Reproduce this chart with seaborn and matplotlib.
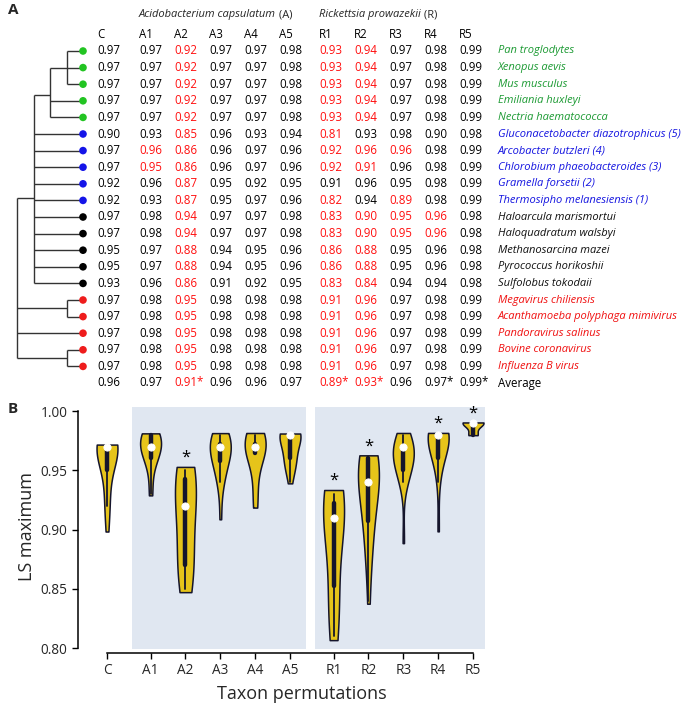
import numpy as np
import pandas as pd
import matplotlib
matplotlib.use("Agg")
import matplotlib.pyplot as plt
import seaborn as sns

# ---- data ----
perms = ["C", "A1", "A2", "A3", "A4", "A5", "R1", "R2", "R3", "R4", "R5"]

species = ["Pan troglodytes", "Xenopus aevis", "Mus musculus", "Emiliania huxleyi",
           "Nectria haematococca", "Gluconacetobacter diazotrophicus (5)",
           "Arcobacter butzleri (4)", "Chlorobium phaeobacteroides (3)",
           "Gramella forsetii (2)", "Thermosipho melanesiensis (1)",
           "Haloarcula marismortui", "Haloquadratum walsbyi", "Methanosarcina mazei",
           "Pyrococcus horikoshii", "Sulfolobus tokodaii", "Megavirus chiliensis",
           "Acanthamoeba polyphaga mimivirus", "Pandoravirus salinus",
           "Bovine coronavirus", "Influenza B virus"]

groups = ["euk"] * 5 + ["bact"] * 5 + ["arch"] * 5 + ["virus"] * 5

ls_max = [
    [0.97, 0.97, 0.92, 0.97, 0.97, 0.98, 0.93, 0.94, 0.97, 0.98, 0.99],
    [0.97, 0.97, 0.92, 0.97, 0.97, 0.98, 0.93, 0.94, 0.97, 0.98, 0.99],
    [0.97, 0.97, 0.92, 0.97, 0.97, 0.98, 0.93, 0.94, 0.97, 0.98, 0.99],
    [0.97, 0.97, 0.92, 0.97, 0.97, 0.98, 0.93, 0.94, 0.97, 0.98, 0.99],
    [0.97, 0.97, 0.92, 0.97, 0.97, 0.98, 0.93, 0.94, 0.97, 0.98, 0.99],
    [0.90, 0.93, 0.85, 0.96, 0.93, 0.94, 0.81, 0.93, 0.98, 0.90, 0.98],
    [0.97, 0.96, 0.86, 0.96, 0.97, 0.96, 0.92, 0.96, 0.96, 0.98, 0.99],
    [0.97, 0.95, 0.86, 0.96, 0.97, 0.96, 0.92, 0.91, 0.96, 0.98, 0.99],
    [0.92, 0.96, 0.87, 0.95, 0.92, 0.95, 0.91, 0.96, 0.95, 0.98, 0.99],
    [0.92, 0.93, 0.87, 0.95, 0.97, 0.96, 0.82, 0.94, 0.89, 0.98, 0.99],
    [0.97, 0.98, 0.94, 0.97, 0.97, 0.98, 0.83, 0.90, 0.95, 0.96, 0.98],
    [0.97, 0.98, 0.94, 0.97, 0.97, 0.98, 0.83, 0.90, 0.95, 0.96, 0.98],
    [0.95, 0.97, 0.88, 0.94, 0.95, 0.96, 0.86, 0.88, 0.95, 0.96, 0.98],
    [0.95, 0.97, 0.88, 0.94, 0.95, 0.96, 0.86, 0.88, 0.95, 0.96, 0.98],
    [0.93, 0.96, 0.86, 0.91, 0.92, 0.95, 0.83, 0.84, 0.94, 0.94, 0.98],
    [0.97, 0.98, 0.95, 0.98, 0.98, 0.98, 0.91, 0.96, 0.97, 0.98, 0.99],
    [0.97, 0.98, 0.95, 0.98, 0.98, 0.98, 0.91, 0.96, 0.97, 0.98, 0.99],
    [0.97, 0.98, 0.95, 0.98, 0.98, 0.98, 0.91, 0.96, 0.97, 0.98, 0.99],
    [0.97, 0.98, 0.95, 0.98, 0.98, 0.98, 0.91, 0.96, 0.97, 0.98, 0.99],
    [0.97, 0.98, 0.95, 0.98, 0.98, 0.98, 0.91, 0.96, 0.97, 0.98, 0.99],
]

# 1 = value printed in red (significant drop)
red_flags = ["00100011000"] * 5 + [
    "00100010000", "01100011100", "01100011000", "00100000000", "00100010100",
    "00100011110", "00100011110", "00100011000", "00100011000", "00100011000",
] + ["00100011000"] * 5

average = [0.96, 0.97, 0.91, 0.96, 0.96, 0.97, 0.89, 0.93, 0.96, 0.97, 0.99]
avg_red = "00100011000"
avg_star = "00100011011"

# cladogram topology, leaves are row indices
tree = [[[[0, 1, 2], 3, 4], 5, 6, 7, 8, 9, 10, 11, 12, 13, 14], [15, 16], 17, [18, 19]]

# ---- style ----
sns.set_theme(style="white")
plt.rcParams["font.family"] = ["Open Sans", "DejaVu Sans"]

dot_col = {"euk": "#22c422", "bact": "#1414e8", "arch": "black", "virus": "#ee1c1c"}
name_col = {"euk": "#1c9a33", "bact": "#1414e0", "arch": "#111111", "virus": "#f01010"}
RED = "#ff0f0f"
GOLD = "#e6c41a"
NAVY = "#15152c"
SHADE = "#e0e7f1"

W, H = 686, 706
fig = plt.figure(figsize=(W / 100, H / 100), dpi=100)

# ---- panel A: tree + table, drawn in pixel coords ----
axa = fig.add_axes([0, 0, 1, 1])
axa.set_xlim(0, W)
axa.set_ylim(H, 0)
axa.axis("off")

row_y0, row_dy = 51.0, 16.6
col_x = [97] + [139 + 35 * k for k in range(5)] + [319 + 35 * k for k in range(5)]
name_x = 498
leaf_x, step = 83.0, 16.5
fs_tab = 8.3
fs_name = 8.0


def row_y(i):
    return row_y0 + i * row_dy


def draw_node(node):
    if isinstance(node, int):
        return row_y(node), 0, leaf_x
    kids = [draw_node(c) for c in node]
    h = max(k[1] for k in kids) + 1
    x = leaf_x - h * step
    ys = [k[0] for k in kids]
    axa.plot([x, x], [min(ys), max(ys)], color="#333333", lw=1.0, solid_capstyle="butt")
    for ky, _, kx in kids:
        axa.plot([x, kx], [ky, ky], color="#333333", lw=1.0, solid_capstyle="butt")
    return float(np.mean(ys)), h, x


draw_node(tree)
axa.scatter([leaf_x] * len(species), [row_y(i) for i in range(len(species))],
            s=30, c=[dot_col[g] for g in groups], zorder=3, linewidths=0)

# header
for j, p in enumerate(perms):
    axa.text(col_x[j], row_y(-1), p, fontsize=fs_tab, va="center", ha="left", color="black")

fig.canvas.draw()
rend = fig.canvas.get_renderer()
for x0, it, rest in [(col_x[1], "Acidobacterium capsulatum", " (A)"),
                     (col_x[6], "Rickettsia prowazekii", " (R)")]:
    t = axa.text(x0, 15, it, fontsize=fs_name, style="italic", va="center", ha="left")
    bb = t.get_window_extent(renderer=rend)
    xe = axa.transData.inverted().transform((bb.x1, 0))[0]
    axa.text(xe, 15, rest, fontsize=fs_name, va="center", ha="left")

for i, vals in enumerate(ls_max):
    y = row_y(i)
    for j, v in enumerate(vals):
        axa.text(col_x[j], y, f"{v:.2f}", fontsize=fs_tab, va="center", ha="left",
                 color=RED if red_flags[i][j] == "1" else "black")
    axa.text(name_x, y, species[i], fontsize=fs_name, style="italic", va="center",
             ha="left", color=name_col[groups[i]])

ya = row_y(len(species))
for j, v in enumerate(average):
    s = f"{v:.2f}" + ("*" if avg_star[j] == "1" else "")
    axa.text(col_x[j], ya, s, fontsize=fs_tab, va="center", ha="left",
             color=RED if avg_red[j] == "1" else "black")
axa.text(name_x, ya, "Average", fontsize=fs_tab, va="center", ha="left", color="black")

axa.text(8, 10, "A", fontsize=11, fontweight="bold", va="center", ha="left")
axa.text(8, 409, "B", fontsize=11, fontweight="bold", va="center", ha="left")

# ---- panel B: violins ----
pos = [0.0] + [1.25 + k for k in range(5)] + [6.5 + k for k in range(5)]
df = pd.DataFrame(ls_max, columns=perms).melt(var_name="perm", value_name="ls")
df["pos"] = df["perm"].map(dict(zip(perms, pos)))

pxu = 34.86
left_px = 107 - 0.8 * pxu
axb = fig.add_axes([left_px / W, (H - 648.6) / H, 11.65 * pxu / W, 241.7 / H])
axb.axvspan(pos[1] - 0.52, pos[5] + 0.45, color=SHADE, lw=0, zorder=0)
axb.axvspan(pos[6] - 0.52, pos[10] + 0.35, color=SHADE, lw=0, zorder=0)

sns.violinplot(data=df, x="pos", y="ls", native_scale=True, cut=0.1, bw_adjust=1.4,
               density_norm="width", width=0.6, color=GOLD, linecolor=NAVY,
               linewidth=1.1, saturation=1, inner="box",
               inner_kws=dict(box_width=3.2, whis_width=1.3, marker="o", markersize=5.2),
               ax=axb)

# top of each violin body, to put the significance stars just above it
tops = {}
for coll in axb.collections:
    paths = coll.get_paths()
    if not paths:
        continue
    v = paths[0].vertices
    tops[round(float(np.median(v[:, 0])), 2)] = v[:, 1].max()

for j, p in enumerate(perms):
    if avg_star[j] == "1":
        top = max((t for k, t in tops.items() if abs(k - pos[j]) < 0.35),
                  default=df.loc[df["perm"] == p, "ls"].max())
        axb.annotate("*", (pos[j], top), xytext=(0, 6.5), textcoords="offset points",
                     ha="center", va="center", fontsize=12, color="black")

axb.set_xlim(-0.8, 10.85)
axb.set_ylim(0.7995, 1.0035)
axb.set_xticks(pos)
axb.set_xticklabels(perms)
axb.set_yticks([0.80, 0.85, 0.90, 0.95, 1.00])
axb.set_yticklabels(["0.80", "0.85", "0.90", "0.95", "1.00"])
axb.tick_params(axis="both", labelsize=9.8, length=4.5, width=1.0, color="black",
                left=True, bottom=True, pad=3)
for s in ["top", "right"]:
    axb.spines[s].set_visible(False)
axb.spines["left"].set_position(("outward", 1))
axb.spines["bottom"].set_position(("outward", 3))
axb.spines["left"].set_bounds(0.80, 1.00)
axb.spines["bottom"].set_bounds(pos[0], pos[-1])
for s in ["left", "bottom"]:
    axb.spines[s].set_color("black")
    axb.spines[s].set_linewidth(1.1)
axb.set_facecolor("none")
axb.set_xlabel("Taxon permutations", fontsize=13)
axb.set_ylabel("LS maximum", fontsize=13)
axb.xaxis.set_label_coords((302 - left_px) / (11.65 * pxu), -0.15)
axb.yaxis.set_label_coords(-0.105, 0.507)

fig.savefig("out.png", dpi=100)
